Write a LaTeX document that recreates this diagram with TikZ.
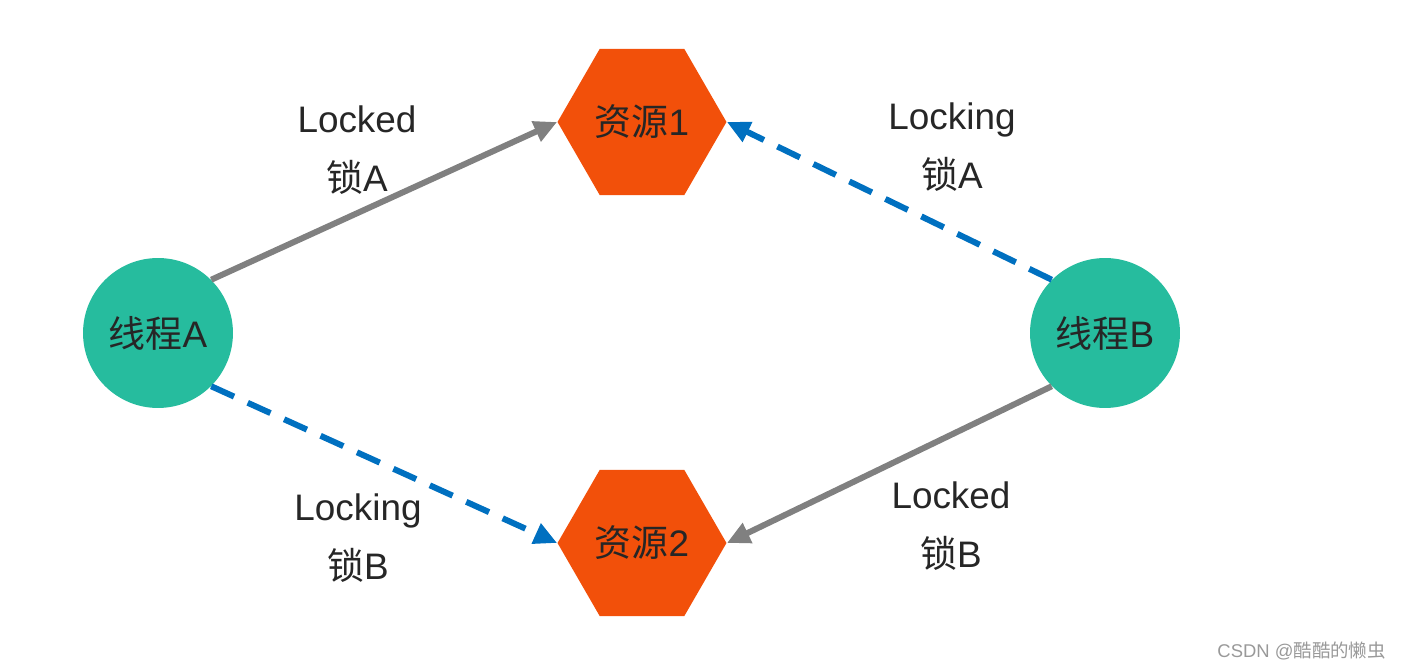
\documentclass[tikz,border=0pt]{standalone}
\usepackage{fontspec}
\setmainfont{Liberation Sans}
\newfontfamily\cjk{Noto Sans CJK SC}
\usepackage{tikz}
\usetikzlibrary{shapes.geometric,arrows.meta}
\definecolor{threadgreen}{HTML}{26BC9E}
\definecolor{resorange}{HTML}{F2500A}
\definecolor{waitblue}{HTML}{0070C0}
\definecolor{heldgray}{HTML}{808080}
\definecolor{txtgray}{HTML}{262626}

\begin{document}
\begin{tikzpicture}[x=0.02cm,y=-0.02cm,text=txtgray,font=\fontsize{21}{33.6}\selectfont,
thread/.style={circle,fill=threadgreen,minimum size=3cm,inner sep=0pt},
res/.style={regular polygon,regular polygon sides=6,fill=resorange,minimum size=3.38cm,inner sep=0pt},
lab/.style={align=center},
held/.style={draw=heldgray,line width=0.12cm,-{Triangle[length=0.46cm,width=0.42cm]}},
want/.style={held,draw=waitblue,dash pattern=on 0.5cm off 0.3cm}]
\useasboundingbox (0,0) rectangle (1407,671);
\node[thread] (tA) at (158,333) {{\cjk 线程}A};
\node[thread] (tB) at (1105,333) {{\cjk 线程}B};
\node[res] (r1) at (642,122) {{\cjk 资源}1};
\node[res] (r2) at (642,543) {{\cjk 资源}2};
\draw[held] (tA.45) -- (r1.west);
\draw[want] (tB.135) -- (r1.east);
\draw[want] (tA.-45) -- (r2.west);
\draw[held] (tB.-135) -- (r2.east);
\node[lab] (lA1) at (357,150) {Locked\\{\cjk 锁}A};
\node[lab] (lB1) at (952,147) {Locking\\{\cjk 锁}A};
\node[lab] (lA2) at (358,538) {Locking\\{\cjk 锁}B};
\node[lab] (lB2) at (951,526) {Locked\\{\cjk 锁}B};
\node[text=gray!80,font=\fontsize{10.5}{12}\selectfont,anchor=east] (mark) at (1392,651) {CSDN @{\cjk 酷酷的懒虫}};
\end{tikzpicture}
\end{document}
